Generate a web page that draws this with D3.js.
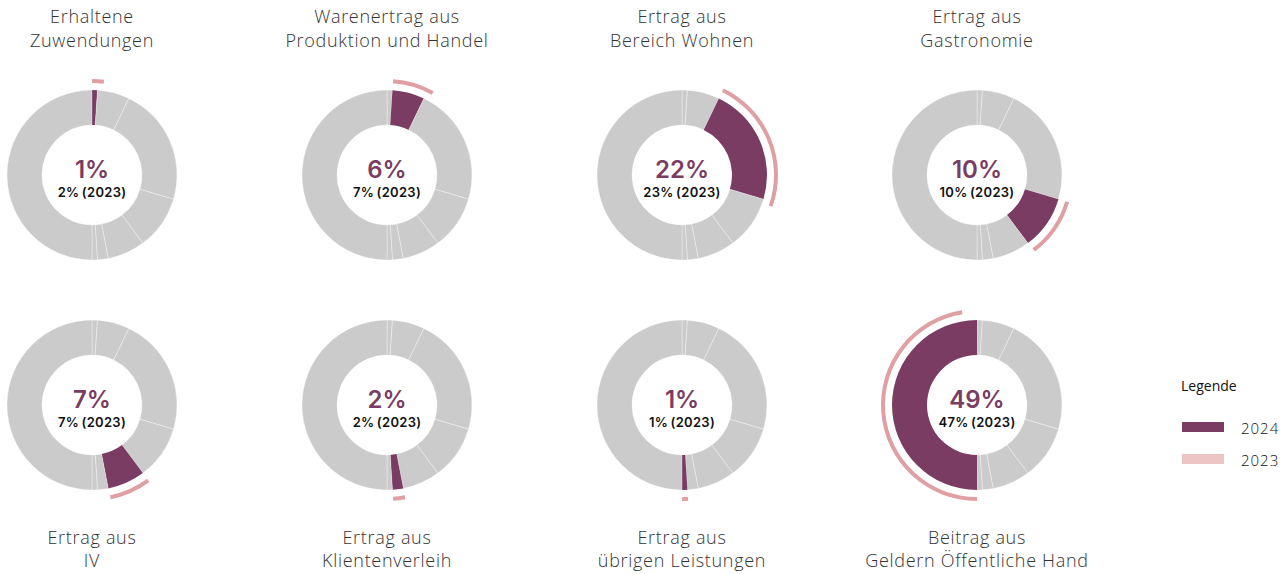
<!DOCTYPE html>
<html>
<head>
<meta charset="utf-8">
<script src="https://cdn.jsdelivr.net/npm/d3@7"></script>
<style>
  html, body { margin: 0; padding: 0; background: #fff; }
  svg { display: block; }
</style>
</head>
<body>
<svg id="chart" width="1288" height="574"></svg>
<script>
const categories = [
  ["Erhaltene", "Zuwendungen"],
  ["Warenertrag aus", "Produktion und Handel"],
  ["Ertrag aus", "Bereich Wohnen"],
  ["Ertrag aus", "Gastronomie"],
  ["Ertrag aus", "IV"],
  ["Ertrag aus", "Klientenverleih"],
  ["Ertrag aus", "übrigen Leistungen"],
  ["Beitrag aus", "Geldern Öffentliche Hand"]
];
const values2024 = [1, 6, 22, 10, 7, 2, 1, 49];
const values2023 = [2, 7, 23, 10, 7, 2, 1, 47];
const legendLabels = ["2024", "2023"];

const colors = { grey: "#cbcbcb", purple: "#7a3c62", pink: "#e09fa2", pinkLight: "#ecc5c4", title: "#333333", text: "#111111" };

const svg = d3.select("#chart");

const colX = d3.scalePoint().domain(d3.range(4)).range([92, 977]);
const rowY = [175, 405];

const rInner = 50, rOuter = 85, rPinkIn = 92, rPinkOut = 96;

const pie = d3.pie().sort(null).value(d => d);
const slices = pie(values2024);
const arc = d3.arc().innerRadius(rInner).outerRadius(rOuter);
const arcPink = d3.arc().innerRadius(rPinkIn).outerRadius(rPinkOut);
const total2023 = d3.sum(values2023);
const angle = d3.scaleLinear().domain([0, total2023]).range([0, 2 * Math.PI]);

categories.forEach((cat, i) => {
  const row = Math.floor(i / 4), col = i % 4;
  const cx = colX(col), cy = rowY[row];
  const g = svg.append("g").attr("transform", `translate(${cx},${cy})`);

  g.selectAll("path.slice").data(slices).join("path")
    .attr("class", "slice")
    .attr("d", arc)
    .attr("fill", (d, j) => j === i ? colors.purple : colors.grey)
    .attr("stroke", (d, j) => j === i ? "none" : "#ffffff")
    .attr("stroke-opacity", 0.55)
    .attr("stroke-width", 0.6);

  const s = slices[i].startAngle;
  g.append("path")
    .attr("d", arcPink({ startAngle: s, endAngle: s + angle(values2023[i]) }))
    .attr("fill", colors.pink);

  g.append("text")
    .attr("text-anchor", "middle")
    .attr("y", 3)
    .attr("font-family", "Inter, 'Open Sans', sans-serif")
    .attr("font-weight", 600)
    .attr("font-size", 24)
    .attr("fill", colors.purple)
    .text(values2024[i] + "%");

  g.append("text")
    .attr("text-anchor", "middle")
    .attr("y", 22)
    .attr("font-family", "Inter, 'Open Sans', sans-serif")
    .attr("font-weight", 600)
    .attr("font-size", 13)
    .attr("letter-spacing", 0.3)
    .attr("fill", colors.text)
    .text(values2023[i] + "%\u2009(2023)");

  const ty = row === 0 ? [23, 47] : [544, 567];
  cat.forEach((line, k) => {
    svg.append("text")
      .attr("x", cx).attr("y", ty[k])
      .attr("text-anchor", "middle")
      .attr("font-family", "'Open Sans', sans-serif")
      .attr("font-weight", 300)
      .attr("font-size", 18)
      .attr("letter-spacing", 0.7)
      .attr("fill", colors.title)
      .text(line);
  });
});

// Legend
const lg = svg.append("g");
lg.append("text").attr("x", 1181).attr("y", 391)
  .attr("font-family", "'Open Sans', sans-serif").attr("font-size", 14)
  .attr("fill", colors.text).text("Legende");
const legColors = [colors.purple, colors.pinkLight];
legendLabels.forEach((lab, k) => {
  const y = 422 + k * 32;
  lg.append("rect").attr("x", 1182).attr("y", y).attr("width", 42).attr("height", 10).attr("fill", legColors[k]);
  lg.append("text").attr("x", 1241).attr("y", y + 12)
    .attr("font-family", "'Open Sans', sans-serif").attr("font-weight", 300).attr("font-size", 15)
    .attr("letter-spacing", 1)
    .attr("fill", colors.text).text(lab);
});
</script>
</body>
</html>
